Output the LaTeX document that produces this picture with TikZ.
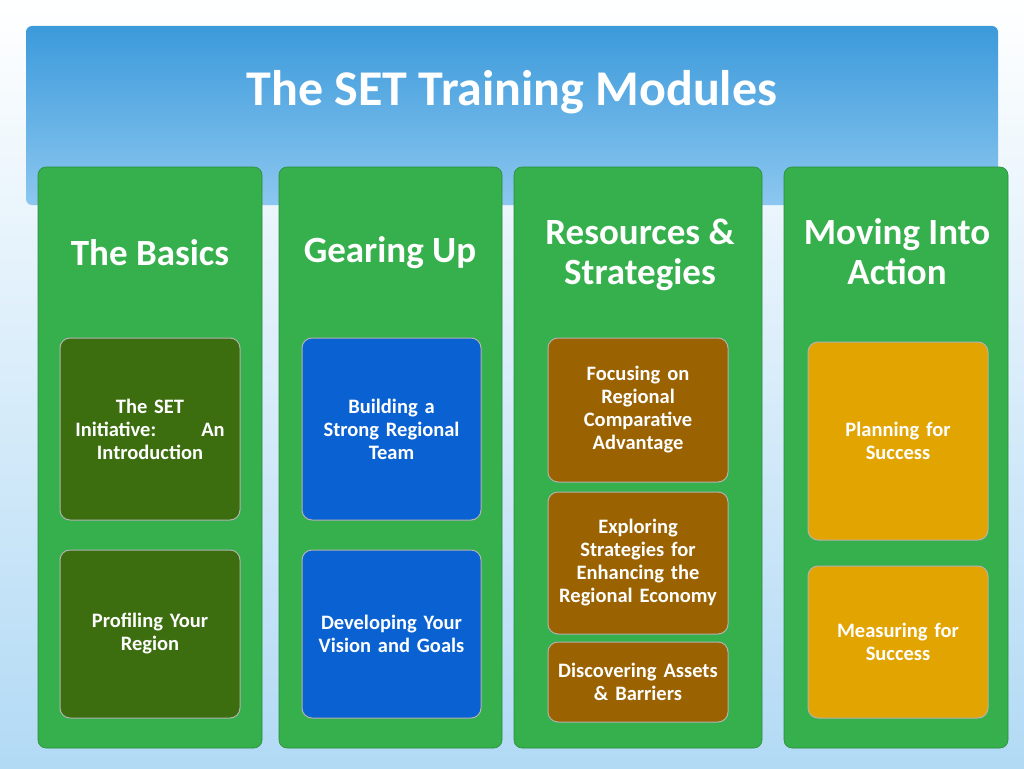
\documentclass[tikz,border=0pt]{standalone}
\usepackage{fontspec}
\setmainfont{Carlito}
\usetikzlibrary{positioning}
\definecolor{colgreen}{HTML}{35B04C}
\definecolor{basicgreen}{HTML}{3C6E10}
\definecolor{gearblue}{HTML}{0A62D2}
\definecolor{resbrown}{HTML}{9A6200}
\definecolor{actgold}{HTML}{E2A400}
\definecolor{skyblue}{HTML}{3FA2E6}
\tikzset{
  column/.style={fill=colgreen, rounded corners=8pt, draw=colgreen!80!black, line width=0.6pt},
  colhead/.style={text=white, font=\bfseries\fontsize{37}{40}\selectfont, align=center},
  module/.style={rounded corners=10pt, draw=white!70!black, line width=1pt, text=white,
    font=\bfseries\fontsize{20.5}{23}\selectfont, align=center, text width=165pt}
}
\begin{document}
\begin{tikzpicture}[x=1pt,y=-1pt]
\useasboundingbox (0,0) rectangle (1024,768);
% sky
\shade[top color=white, bottom color=skyblue!40] (0,0) rectangle (1024,768);
\shade[top color=skyblue!95!black, bottom color=skyblue!60, rounded corners=6pt] (26,26) rectangle (998,205);
\node (title) at (512,92) {\textcolor{white}{\bfseries\fontsize{50}{54}\selectfont The SET Training Modules}};
% columns
\draw[column] (38,167) rectangle (262,748);
\draw[column] (279,167) rectangle (502,748);
\draw[column] (514,167) rectangle (762,748);
\draw[column] (784,167) rectangle (1008,748);
\node[colhead] (basics) at (150,253) {The Basics};
\node[colhead] (gear) at (390,253) {Gearing Up};
\node[colhead] (res) at (640,255) {Resources \&\\Strategies};
\node[colhead] (act) at (897,252) {Moving Into\\Action};
% modules
\draw[module, fill=basicgreen] (60,338) rectangle node (intro) {The SET\\Initiative:\hspace{2.2em}An\\Introduction} (240,520);
\draw[module, fill=basicgreen] (60,550) rectangle node (profile) {Profiling Your\\Region} (240,718);
\draw[module, fill=gearblue] (302,338) rectangle node (team) {Building a\\Strong Regional\\Team} (481,520);
\draw[module, fill=gearblue] (302,550) rectangle node (vision) {Developing Your\\Vision and Goals} (481,718);
\draw[module, fill=resbrown] (548,338) rectangle node (focus) {Focusing on\\Regional\\Comparative\\Advantage} (728,482);
\draw[module, fill=resbrown] (548,492) rectangle node (explore) {Exploring\\Strategies for\\Enhancing the\\Regional Economy} (728,634);
\draw[module, fill=resbrown] (548,642) rectangle node (assets) {Discovering Assets\\\& Barriers} (728,722);
\draw[module, fill=actgold] (808,342) rectangle node (plan) {Planning for\\Success} (988,540);
\draw[module, fill=actgold] (808,566) rectangle node (measure) {Measuring for\\Success} (988,718);
\end{tikzpicture}
\end{document}
